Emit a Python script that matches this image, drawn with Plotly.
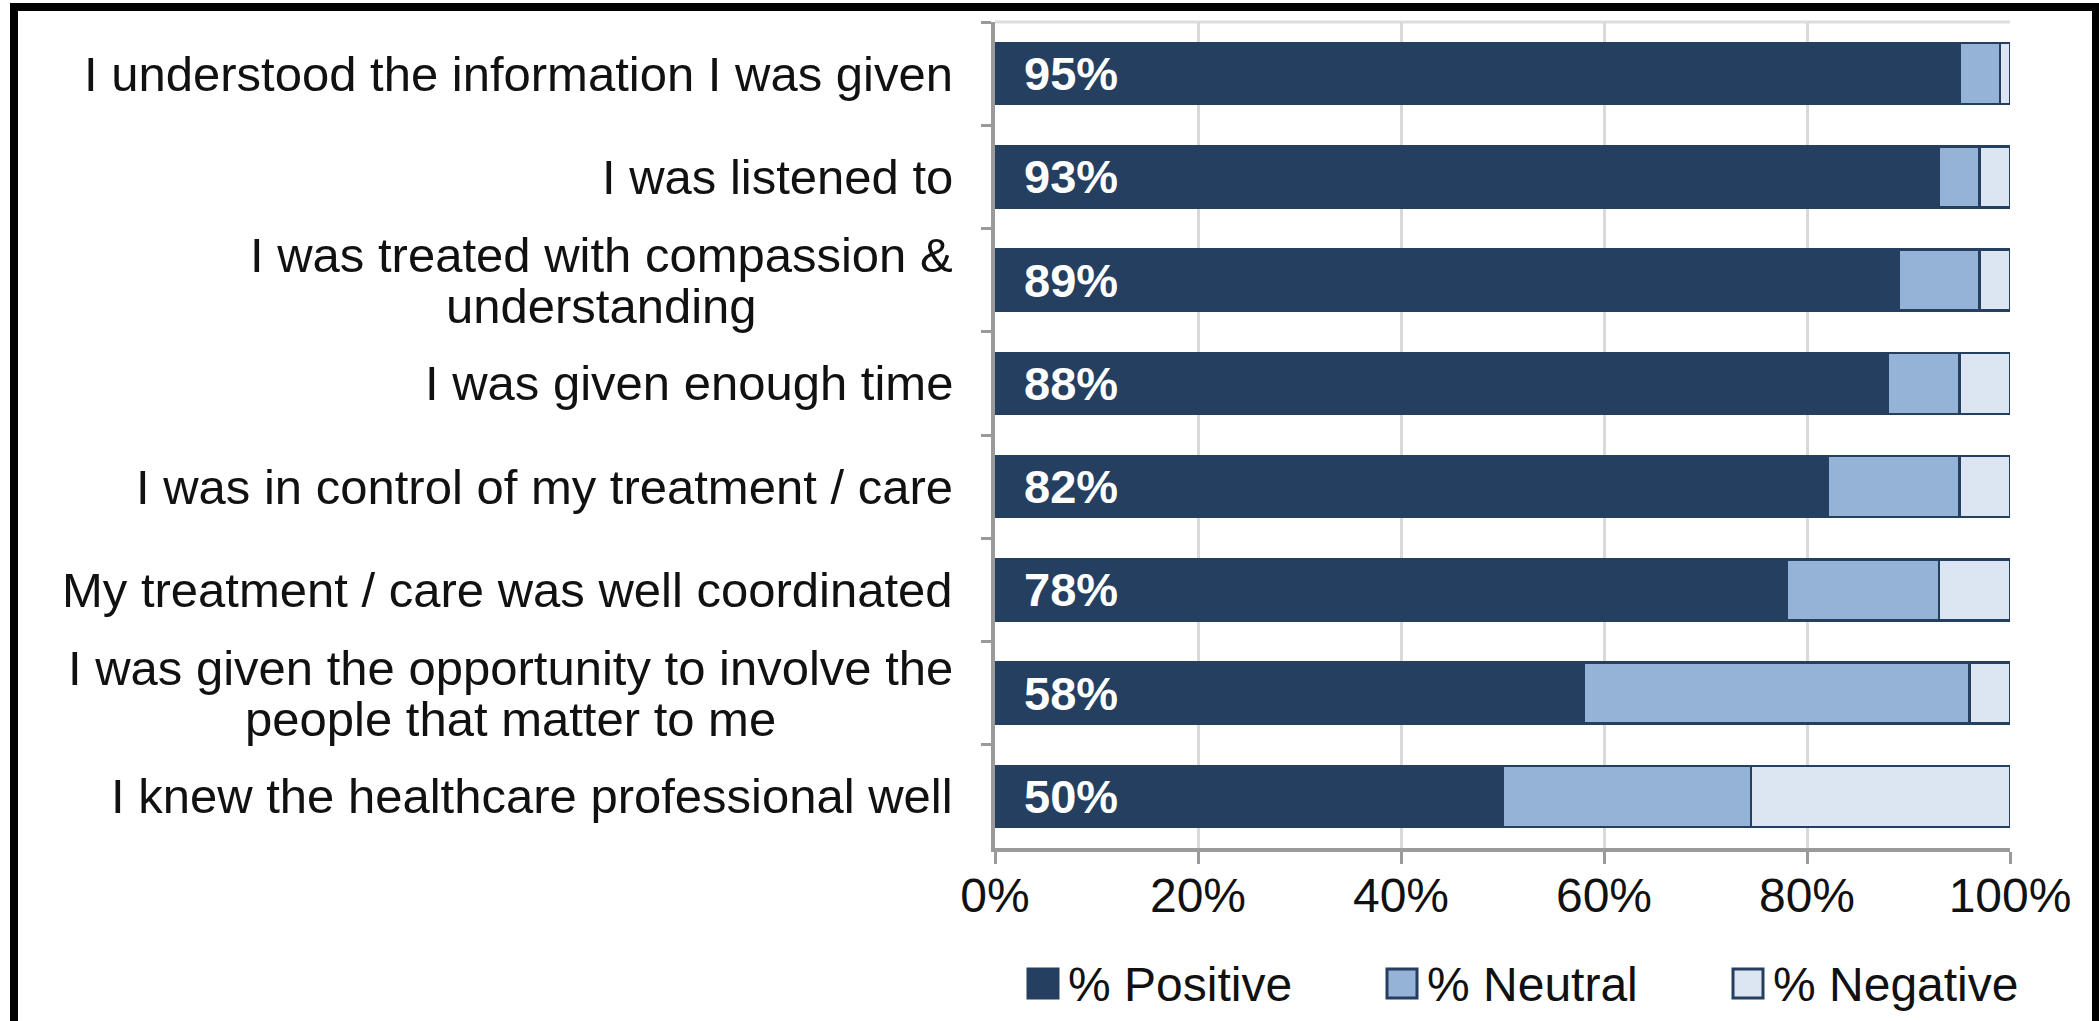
import plotly.graph_objects as go

categories = [
    "I understood the information I was given",
    "I was listened to",
    "I was treated with compassion &<br>understanding",
    "I was given enough time",
    "I was in control of my treatment / care",
    "My treatment / care was well coordinated",
    "I was given the opportunity to involve the<br>people that matter to me",
    "I knew the healthcare professional well",
]
positive = [95, 93, 89, 88, 82, 78, 58, 50]
neutral = [4, 4, 8, 7, 13, 15, 38, 24.5]
negative = [1, 3, 3, 5, 5, 7, 4, 25.5]
series_names = ["% Positive", "% Neutral", "% Negative"]
x_ticks = [0, 20, 40, 60, 80, 100]
x_ticktext = ["0%", "20%", "40%", "60%", "80%", "100%"]

colors = ["#243F60", "#95B3D7", "#DCE6F2"]
edge = "#243F60"
FONT = "Liberation Sans, Arial, sans-serif"

W_TOT, H_TOT = 2099, 1021
L, R, T, B = 995, 89, 22, 173
PW = W_TOT - L - R
PH = H_TOT - T - B
PLOT_BOTTOM = H_TOT - B


def px_x(px):
    return (px - L) / PW


def px_y(py):
    return (PLOT_BOTTOM - py) / PH


fig = go.Figure()
for name, vals, col in zip(series_names, [positive, neutral, negative], colors):
    fig.add_trace(go.Bar(
        y=categories, x=vals, name=name, orientation="h",
        marker=dict(color=col, line=dict(color=edge, width=2.5)),
        showlegend=False,
    ))

annotations = []
# value labels inside the positive bars
for cat, v in zip(categories, positive):
    annotations.append(dict(
        x=0, y=cat, xref="x", yref="y", text=f"<b>{v}%</b>", showarrow=False,
        xanchor="left", yanchor="middle", xshift=27,
        font=dict(family=FONT, size=47, color="white"),
    ))
# category labels (line spacing tighter than plotly default via inner span size)
for cat in categories:
    txt = "<br>".join(f'<span style="font-size:49px">{line}</span>' for line in cat.split("<br>"))
    annotations.append(dict(
        x=0, y=cat, xref="paper", yref="y", text=txt, showarrow=False,
        xanchor="right", yanchor="middle", xshift=-40, align="center",
        font=dict(family=FONT, size=39, color="#111111"),
    ))

# legend
legend_x = [1028, 1387, 1733]
shapes = []
for name, col, lx in zip(series_names, colors, legend_x):
    shapes.append(dict(
        type="rect", xref="paper", yref="paper",
        x0=px_x(lx), x1=px_x(lx + 30), y0=px_y(998), y1=px_y(969),
        fillcolor=col, line=dict(color=edge, width=3),
    ))
    annotations.append(dict(
        x=px_x(lx + 38), y=px_y(984), xref="paper", yref="paper", text=name,
        showarrow=False, xanchor="left", yanchor="middle",
        font=dict(family=FONT, size=48, color="#111111"),
    ))

# top boundary of plot area
shapes.append(dict(type="line", xref="paper", yref="paper", x0=0, x1=1, y0=1, y1=1,
                   line=dict(color="#DDDDDD", width=3), layer="below"))
# outer black frame
shapes.append(dict(type="rect", xref="paper", yref="paper",
                   x0=px_x(14), x1=px_x(2096), y0=px_y(1040), y1=px_y(7),
                   line=dict(color="black", width=8)))

fig.update_layout(
    width=W_TOT, height=H_TOT,
    margin=dict(l=L, r=R, t=T, b=B, pad=0),
    barmode="stack", bargap=0.41,
    plot_bgcolor="white", paper_bgcolor="white",
    annotations=annotations, shapes=shapes,
    font=dict(family=FONT, color="#111111"),
    xaxis=dict(
        range=[0, 100], tickvals=x_ticks, ticktext=x_ticktext,
        showgrid=True, gridcolor="#D9D9D9", gridwidth=3,
        showline=True, linecolor="#9A9A9A", linewidth=4,
        ticks="outside", ticklen=12, tickwidth=3, tickcolor="#9A9A9A",
        tickfont=dict(family=FONT, size=48, color="#111111"),
        ticklabelstandoff=-10, zeroline=False,
    ),
    yaxis=dict(
        categoryorder="array", categoryarray=categories, autorange="reversed",
        showticklabels=False, showgrid=False,
        showline=True, linecolor="#9A9A9A", linewidth=4,
        ticks="outside", ticklen=10, tickwidth=3, tickcolor="#9A9A9A",
        tickson="boundaries",
    ),
)

fig.write_html("out.html")
